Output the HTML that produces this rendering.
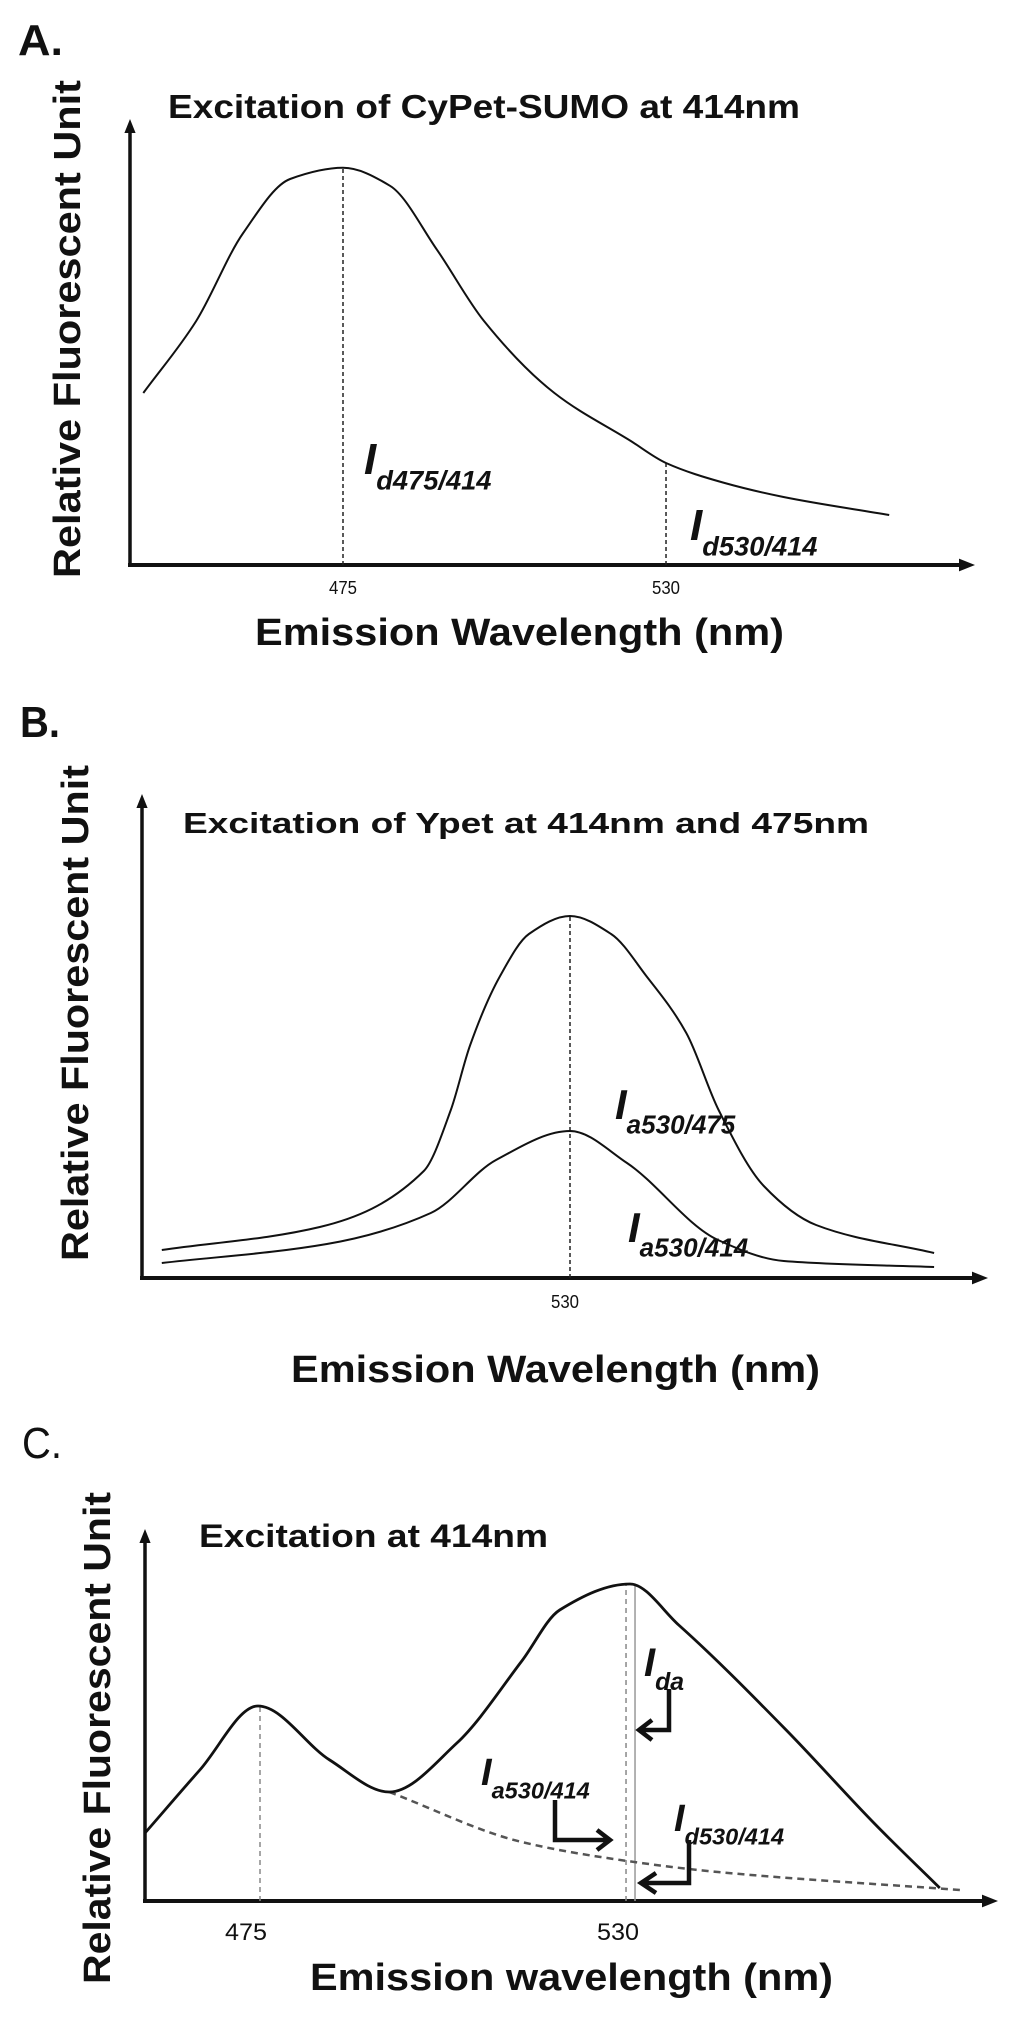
<!DOCTYPE html>
<html><head><meta charset="utf-8"><style>
html,body{margin:0;padding:0;background:#fff}
svg{display:block}
text{font-family:"Liberation Sans",sans-serif;fill:#111}
</style></head><body>
<svg id="fig" width="1024" height="2018" viewBox="0 0 1024 2018">
<defs>
<marker id="ah" viewBox="0 0 10 10" refX="5" refY="5" markerWidth="4" markerHeight="4" orient="auto"><path d="M0,1 L10,5 L0,9 Z" fill="#111"/></marker>
</defs>
<g id="pa"></g>
<g id="pb"></g>
<g id="pc"></g>
</svg>
<script>
// Panel A data
const aNm = [441, 450, 458, 466, 475, 483, 491, 499, 511, 524, 530, 540, 550, 568];
const aVal = [43, 61, 83, 96.5, 99.3, 94.8, 78.8, 61, 43, 31, 25.5, 20.5, 17, 12.5];
const aTicks = [475, 530];
// Panel B data
const bUpperNm = [460.5, 487.4, 505.1, 509.7, 513, 518.1, 523, 530, 537, 543, 549.8, 555.3, 563, 571.9, 592];
const bUpperVal = [7, 12.75, 26.75, 42, 58.25, 75.5, 86, 90.5, 86, 75.5, 61.25, 42, 23, 13.25, 6.25];
const bLowerNm = [460.5, 488.6, 506.3, 517.4, 530, 539.7, 555.2, 566.4, 592];
const bLowerVal = [3.75, 8.5, 16.25, 29.5, 36.75, 28.75, 9.5, 4.25, 2.75];
const bTicks = [530];
// Panel C data
const cNm = [458.3, 466.4, 475, 485.6, 494.4, 504.4, 514, 519.6, 530, 537.2, 552.8, 566.2, 575.8];
const cVal = [17, 32.75, 48.75, 35.25, 27.25, 39.5, 60, 72.75, 79.25, 69, 43.25, 19.25, 3.25];
const cBaseNm = [494.4, 514, 529.6, 543, 578.8];
const cBaseVal = [27.25, 14.75, 10, 7.25, 2.75];
const cTicks = [475, 530];

const NS = "http://www.w3.org/2000/svg";
function mk(parent, tag, attrs, txt){
  const e = document.createElementNS(NS, tag);
  for (const k in attrs) e.setAttribute(k, attrs[k]);
  if (txt !== undefined) e.textContent = txt;
  parent.appendChild(e);
  return e;
}
// monotone cubic (Fritsch-Carlson) in screen coords
function smooth(pts){
  const n = pts.length;
  const dx = [], m = [], t = [];
  for (let i = 0; i < n-1; i++){ dx[i] = pts[i+1][0]-pts[i][0]; m[i] = (pts[i+1][1]-pts[i][1])/dx[i]; }
  t[0] = m[0]; t[n-1] = m[n-2];
  for (let i = 1; i < n-1; i++){
    if (m[i-1]*m[i] <= 0) t[i] = 0;
    else { const w1 = 2*dx[i]+dx[i-1], w2 = dx[i]+2*dx[i-1]; t[i] = (w1+w2)/(w1/m[i-1]+w2/m[i]); }
  }
  let d = "M" + pts[0][0].toFixed(1) + "," + pts[0][1].toFixed(1);
  for (let i = 0; i < n-1; i++){
    const h = dx[i]/3;
    d += " C" + (pts[i][0]+h).toFixed(1) + "," + (pts[i][1]+t[i]*h).toFixed(1) + " " +
         (pts[i+1][0]-h).toFixed(1) + "," + (pts[i+1][1]-t[i+1]*h).toFixed(1) + " " +
         pts[i+1][0].toFixed(1) + "," + pts[i+1][1].toFixed(1);
  }
  return d;
}
function interp(nms, vals, nm){
  for (let i = 0; i < nms.length-1; i++){
    if (nm >= nms[i] && nm <= nms[i+1]) return vals[i] + (vals[i+1]-vals[i])*(nm-nms[i])/(nms[i+1]-nms[i]);
  }
  return vals[vals.length-1];
}
function axes(g, x0, yTop, yAx, xEnd){
  const ya = mk(g, "line", {x1:x0, y1:yAx+2, x2:x0, y2:yTop+8, stroke:"#111", "stroke-width":3.5, "marker-end":"url(#ah)"});
  
  
  const xa = mk(g, "line", {x1:x0-2, y1:yAx, x2:xEnd-8, y2:yAx, stroke:"#111", "stroke-width":4, "marker-end":"url(#ah)"});
  
  
}
function label(g, x, y, main, sub, size, name){
  const t = mk(g, "text", {x:x, y:y, "font-size":size, "font-weight":"bold", "font-style":"italic"});
  
  
  mk(t, "tspan", {}, main);
  mk(t, "tspan", {dy:size*0.35, "font-size":size*0.62}, sub);
  return t;
}
function txt(g, x, y, s, size, len, name, extra){
  const a = {x:x, y:y, "font-size":size, "font-weight":"bold"};
  if (len) { a.textLength = len; a.lengthAdjust = "spacingAndGlyphs"; }
  Object.assign(a, extra || {});
  const t = mk(g, "text", a, s);
  
  
  return t;
}
function ylab(g, cx, top, bottom, size, name){
  const t = mk(g, "text", {x:0, y:0, "font-size":size, "font-weight":"bold", textLength:bottom-top, lengthAdjust:"spacingAndGlyphs", "text-anchor":"start", transform:"translate(" + cx + "," + bottom + ") rotate(-90)"}, "Relative Fluorescent Unit");
  
  
}

// ---------- Panel A ----------
(function(){
  const g = document.getElementById("pa");
  const ax = 565, k = 4;
  const xS = nm => 343 + (nm - 475) * 5.873;
  const yS = v => ax - v * k;
  txt(g, 18, 55, "A.", 44, 45, "panel-a-letter");
  txt(g, 168, 118, "Excitation of CyPet-SUMO at 414nm", 33, 632, "panel-a-title");
  ylab(g, 80, 80, 578, 38, "panel-a-y-axis-title");
  axes(g, 130, 118, ax, 975);
  aTicks.forEach(t => {
    const v = interp(aNm, aVal, t);
    const dl = mk(g, "line", {x1:xS(t), y1:ax, x2:xS(t), y2:yS(v), stroke:"#222", "stroke-width":1.5, "stroke-dasharray":"4,3"});
    
    
    const tl = mk(g, "text", {x:xS(t), y:594, "font-size":18, "text-anchor":"middle", textLength:28, lengthAdjust:"spacingAndGlyphs", fill:"#444"}, String(t));
    
    
  });
  const p = mk(g, "path", {d:smooth(aNm.map((n,i)=>[xS(n), yS(aVal[i])])), fill:"none", stroke:"#111", "stroke-width":2});
  
  
  label(g, 364, 474, "I", "d475/414", 44, "label-id475");
  label(g, 690, 540, "I", "d530/414", 44, "label-id530");
  txt(g, 255, 645, "Emission  Wavelength (nm)", 38, 529, "panel-a-x-axis-title");
})();

// ---------- Panel B ----------
(function(){
  const g = document.getElementById("pb");
  const ax = 1278, k = 4;
  const xS = nm => 570 + (nm - 530) * 5.873;
  const yS = v => ax - v * k;
  txt(g, 20, 737, "B.", 44, 40, "panel-b-letter");
  txt(g, 183, 833, "Excitation of Ypet at 414nm and 475nm", 29, 686, "panel-b-title");
  ylab(g, 88, 765, 1261, 38, "panel-b-y-axis-title");
  axes(g, 142, 793, ax, 988);
  bTicks.forEach(t => {
    const v = interp(bUpperNm, bUpperVal, t);
    const dl = mk(g, "line", {x1:xS(t), y1:ax, x2:xS(t), y2:yS(v), stroke:"#222", "stroke-width":1.5, "stroke-dasharray":"4,3"});
    
    
    const tl = mk(g, "text", {x:xS(t)-5, y:1308, "font-size":18, "text-anchor":"middle", textLength:28, lengthAdjust:"spacingAndGlyphs", fill:"#444"}, String(t));
    
    
  });
  const p1 = mk(g, "path", {d:smooth(bUpperNm.map((n,i)=>[xS(n), yS(bUpperVal[i])])), fill:"none", stroke:"#111", "stroke-width":2});
  
  
  const p2 = mk(g, "path", {d:smooth(bLowerNm.map((n,i)=>[xS(n), yS(bLowerVal[i])])), fill:"none", stroke:"#111", "stroke-width":2});
  
  
  label(g, 615, 1119, "I", "a530/475", 42, "label-ia530-475");
  label(g, 628, 1242, "I", "a530/414", 42, "label-ia530-414");
  txt(g, 291, 1382, "Emission  Wavelength (nm)", 38, 529, "panel-b-x-axis-title");
})();

// ---------- Panel C ----------
(function(){
  const g = document.getElementById("pc");
  const ax = 1901, k = 4;
  const xS = nm => 258 + (nm - 475) * 6.764;
  const yS = v => ax - v * k;
  txt(g, 22, 1458, "C.", 44, 40, "panel-c-letter", {"font-weight":"normal"});
  txt(g, 199, 1547, "Excitation at 414nm", 32, 349, "panel-c-title");
  ylab(g, 110, 1492, 1984, 38, "panel-c-y-axis-title");
  axes(g, 145, 1528, ax, 998);
  cTicks.forEach(t => {
    const v = interp(cNm, cVal, t);
    const off = t === 530 ? -4 : 2;
    const dl = mk(g, "line", {x1:xS(t)+off, y1:ax, x2:xS(t)+off, y2:yS(v), stroke:"#888", "stroke-width":1.5, "stroke-dasharray":"5,4"});
    
    
    const tl = mk(g, "text", {x:xS(t)-12, y:1940, "font-size":24, "text-anchor":"middle", textLength:42, lengthAdjust:"spacingAndGlyphs", fill:"#222"}, String(t));
    
    
  });
  const sl = mk(g, "line", {x1:xS(530)+5, y1:ax, x2:xS(530)+5, y2:yS(interp(cNm, cVal, 530)), stroke:"#999", "stroke-width":1.5});
  
  
  const pb = mk(g, "path", {d:smooth(cBaseNm.map((n,i)=>[xS(n), yS(cBaseVal[i])])), fill:"none", stroke:"#555", "stroke-width":2.5, "stroke-dasharray":"7,5"});
  
  
  const p = mk(g, "path", {d:smooth(cNm.map((n,i)=>[xS(n), yS(cVal[i])])), fill:"none", stroke:"#111", "stroke-width":2.8});
  
  
  label(g, 644, 1676, "I", "da", 40, "label-ida");
  label(g, 481, 1785, "I", "a530/414", 38, "label-ia530-414");
  label(g, 674, 1831, "I", "d530/414", 38, "label-id530-414");
  const arrows = [
    ["arrow-ida", "M669,1689 L669,1730 L641,1730", "M652,1720 L639,1730 L652,1740"],
    ["arrow-ia530", "M555,1800 L555,1840 L608,1840", "M597,1830 L610,1840 L597,1850"],
    ["arrow-id530", "M689,1840 L689,1883 L643,1883", "M656,1873 L641,1883 L656,1893"]
  ];
  arrows.forEach(a => {
    const e = mk(g, "path", {d:a[1] + " " + a[2], fill:"none", stroke:"#111", "stroke-width":4.5, "stroke-linejoin":"miter"});
    
    
  });
  txt(g, 310, 1990, "Emission  wavelength (nm)", 38, 523, "panel-c-x-axis-title");
})();
</script>
</body></html>
